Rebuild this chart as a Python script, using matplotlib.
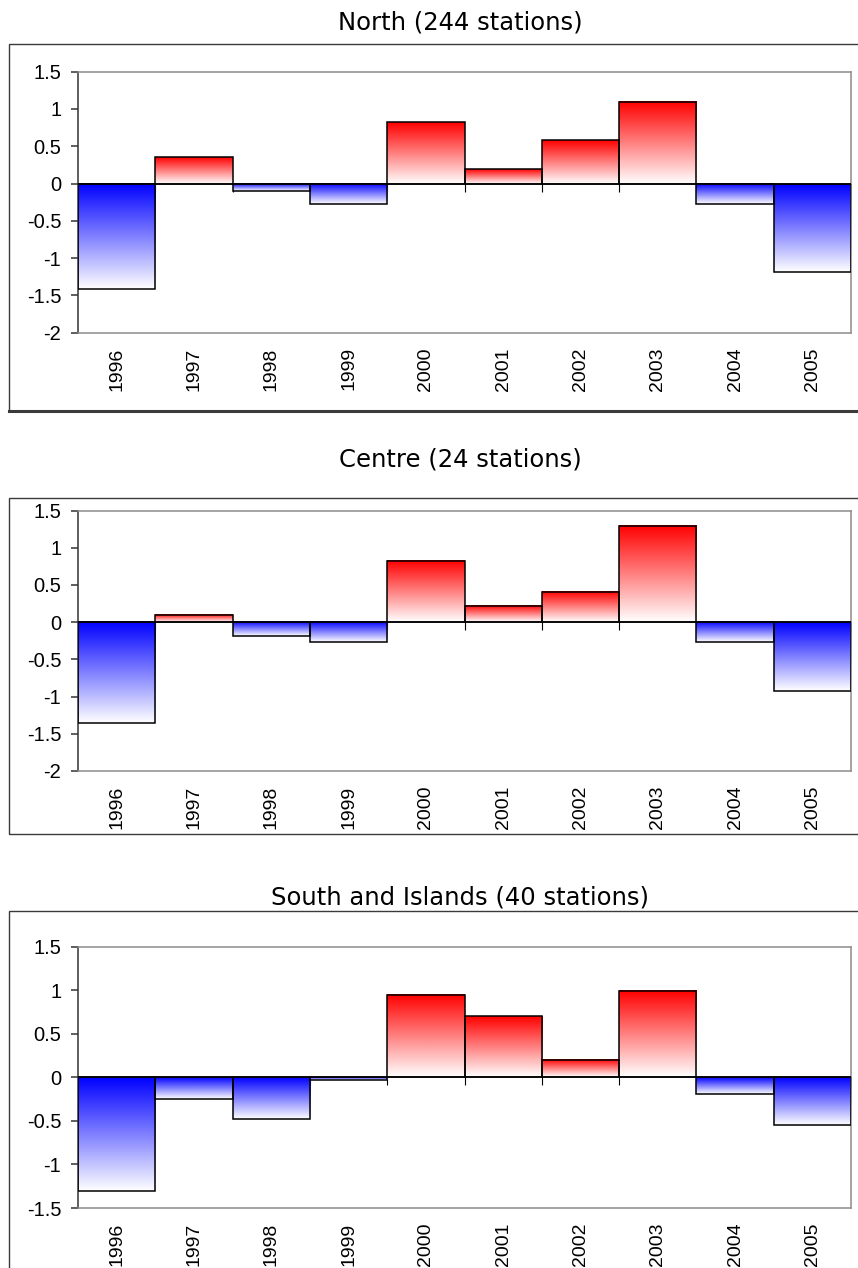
import numpy as np
import matplotlib
matplotlib.use("Agg")
import matplotlib.pyplot as plt
from matplotlib.patches import Rectangle
from matplotlib.lines import Line2D
from matplotlib.ticker import FuncFormatter, MultipleLocator

plt.rcParams["axes.unicode_minus"] = False

years = ["1996", "1997", "1998", "1999", "2000", "2001", "2002", "2003", "2004", "2005"]
north = [-1.41, 0.35, -0.10, -0.27, 0.82, 0.20, 0.59, 1.10, -0.27, -1.18]
centre = [-1.36, 0.10, -0.19, -0.27, 0.82, 0.22, 0.41, 1.29, -0.27, -0.92]
south = [-1.30, -0.25, -0.48, -0.03, 0.95, 0.70, 0.20, 0.99, -0.19, -0.55]

titles = ["North (244 stations)", "Centre (24 stations)", "South and Islands (40 stations)"]
series = [north, centre, south]
ylims = [(-2, 1.5), (-2, 1.5), (-1.5, 1.5)]

W, H = 858, 1268
fig = plt.figure(figsize=(W / 100, H / 100), dpi=100)

# pixel layout of each panel: plot top/bottom, frame top/bottom, title baseline
plot_tb = [(71.7, 332.7), (510.5, 771), (946.7, 1208)]
frame_tb = [(44, 410.5), (498, 834), (911, 1290)]
title_y = [29.3, 466.7, 904.3]
left, right = 78, 851


def gradient(color, n=256):
    c = np.array(matplotlib.colors.to_rgb(color))
    t = np.linspace(0, 1, n)[:, None]
    rows = (1 - t) * np.ones(3) + t * c
    return rows[:, None, :]


red_grad = gradient("#ff0000")
blue_grad = gradient("#0000ff")

for i in range(3):
    top, bot = plot_tb[i]
    ax = fig.add_axes([left / W, 1 - bot / H, (right - left) / W, (bot - top) / H])
    vals = series[i]
    x = np.arange(len(years))

    bars = ax.bar(x, vals, width=1.0, facecolor="none", edgecolor="black",
                  linewidth=1.1, zorder=3)
    for b, v in zip(bars, vals):
        y0 = min(b.get_y(), b.get_y() + b.get_height())
        y1 = max(b.get_y(), b.get_y() + b.get_height())
        g = red_grad if v > 0 else blue_grad
        ax.imshow(g, extent=[b.get_x(), b.get_x() + b.get_width(), y0, y1],
                  origin="lower", aspect="auto", interpolation="bilinear", zorder=2)

    # zero line with category boundary ticks
    ax.axhline(0, color="black", lw=1.1, zorder=4)
    bounds = np.arange(len(years) + 1) - 0.5
    ax.plot(bounds, np.zeros_like(bounds), ls="none", marker=3, ms=6,
            mew=0.8, color="black", zorder=1)

    ax.set_xlim(-0.5, len(years) - 0.5)
    ax.set_ylim(*ylims[i])
    ax.yaxis.set_major_locator(MultipleLocator(0.5))
    ax.yaxis.set_major_formatter(FuncFormatter(lambda v, p: f"{v:g}"))
    ax.set_xticks(x)
    ax.set_xticklabels(years, rotation=90, fontsize=14, family="Liberation Sans")
    ax.tick_params(axis="x", length=0, pad=10.5)
    ax.tick_params(axis="y", length=5, width=1.1, pad=7, color="#333333",
                   labelsize=14.5)
    for lab in ax.get_yticklabels():
        lab.set_family("Liberation Sans")

    for s in ["top", "right", "bottom"]:
        ax.spines[s].set_color("#8c8c8c")
        ax.spines[s].set_linewidth(1.1)
    ax.spines["left"].set_color("#333333")
    ax.spines["left"].set_linewidth(1.1)

    # outer chart frame, running off the right edge
    ft, fb = frame_tb[i]
    fig.add_artist(Rectangle((8.5 / W, 1 - fb / H), 1.2, (fb - ft) / H,
                             transform=fig.transFigure, fill=False,
                             edgecolor="#3a3a3a", lw=1.0, clip_on=False))

    fig.text(460 / W, 1 - title_y[i] / H, titles[i], ha="center", va="baseline",
             fontsize=17.5, family="DejaVu Sans")

# heavier bottom edge under the first frame
fig.add_artist(Line2D([8.5 / W, 1], [1 - 410.5 / H] * 2, transform=fig.transFigure,
                      color="#3a3a3a", lw=2.2))

fig.savefig("out.png", dpi=100)
